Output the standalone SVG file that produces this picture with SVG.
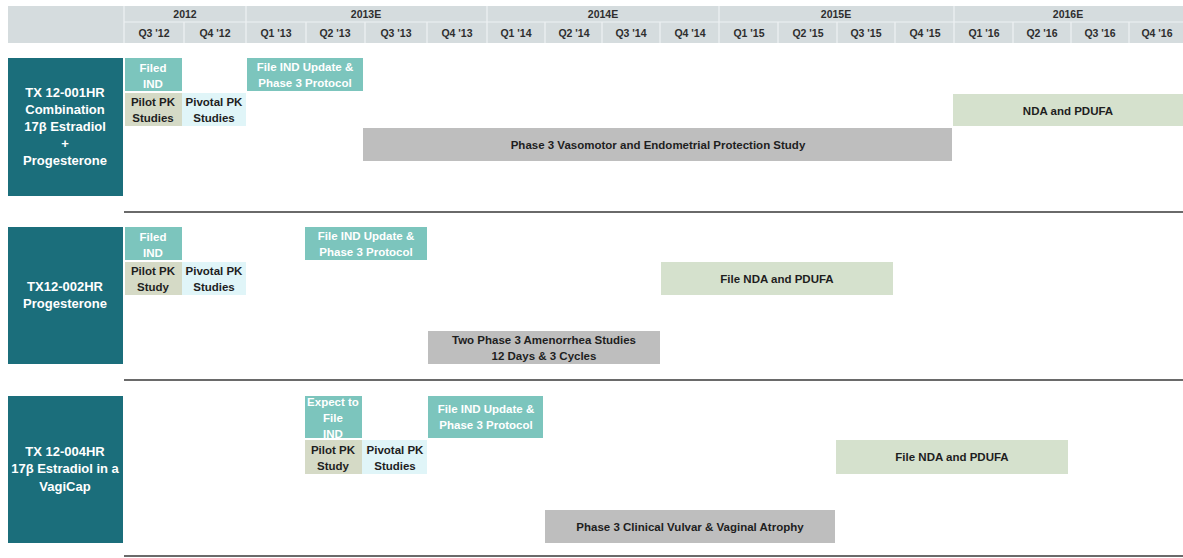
<svg xmlns="http://www.w3.org/2000/svg" width="1183" height="558" viewBox="0 0 1183 558">
<style>
text{font-family:"Liberation Sans",Arial,sans-serif;font-weight:bold;text-anchor:middle}
.hd{font-size:10.5px;fill:#2e2e2e}
.lbl{font-size:13px;fill:#ffffff}
.bt{font-size:11.5px;fill:#1e1e1e}
.wt{font-size:11.5px;fill:#ffffff}
.prog{fill:#1b6e7b}
.ind{fill:#7cc5bd}
.pilot{fill:#d5dac6}
.piv{fill:#e0f5f8}
.gray{fill:#bebebe}
.nda{fill:#d5e1cd}
.sep{stroke:#6a6a6a;stroke-width:2}
.hl{stroke:#eef2f3;stroke-width:1.2}
</style>
<rect width="1183" height="558" fill="#ffffff"/>
<g id="header">
<rect x="8" y="6" width="1175" height="37" fill="#d5dcde"/>
<line class="hl" x1="124" y1="22" x2="1183" y2="22"/>
<g>
<line class="hl" x1="124" y1="6" x2="124" y2="43"/>
<line class="hl" x1="246" y1="6" x2="246" y2="43"/>
<line class="hl" x1="487" y1="6" x2="487" y2="43"/>
<line class="hl" x1="719" y1="6" x2="719" y2="43"/>
<line class="hl" x1="954" y1="6" x2="954" y2="43"/>
<line class="hl" x1="184" y1="22" x2="184" y2="43"/>
<line class="hl" x1="306" y1="22" x2="306" y2="43"/>
<line class="hl" x1="365" y1="22" x2="365" y2="43"/>
<line class="hl" x1="427" y1="22" x2="427" y2="43"/>
<line class="hl" x1="545" y1="22" x2="545" y2="43"/>
<line class="hl" x1="602" y1="22" x2="602" y2="43"/>
<line class="hl" x1="660" y1="22" x2="660" y2="43"/>
<line class="hl" x1="778" y1="22" x2="778" y2="43"/>
<line class="hl" x1="837" y1="22" x2="837" y2="43"/>
<line class="hl" x1="895" y1="22" x2="895" y2="43"/>
<line class="hl" x1="1013" y1="22" x2="1013" y2="43"/>
<line class="hl" x1="1071" y1="22" x2="1071" y2="43"/>
<line class="hl" x1="1129" y1="22" x2="1129" y2="43"/>
</g>
<text class="hd" x="185" y="18">2012</text>
<text class="hd" x="366" y="18">2013E</text>
<text class="hd" x="603" y="18">2014E</text>
<text class="hd" x="836" y="18">2015E</text>
<text class="hd" x="1068" y="18">2016E</text>
<text class="hd" x="154" y="37">Q3 '12</text>
<text class="hd" x="215" y="37">Q4 '12</text>
<text class="hd" x="276" y="37">Q1 '13</text>
<text class="hd" x="335" y="37">Q2 '13</text>
<text class="hd" x="396" y="37">Q3 '13</text>
<text class="hd" x="457" y="37">Q4 '13</text>
<text class="hd" x="516" y="37">Q1 '14</text>
<text class="hd" x="574" y="37">Q2 '14</text>
<text class="hd" x="631" y="37">Q3 '14</text>
<text class="hd" x="690" y="37">Q4 '14</text>
<text class="hd" x="749" y="37">Q1 '15</text>
<text class="hd" x="808" y="37">Q2 '15</text>
<text class="hd" x="866" y="37">Q3 '15</text>
<text class="hd" x="925" y="37">Q4 '15</text>
<text class="hd" x="984" y="37">Q1 '16</text>
<text class="hd" x="1042" y="37">Q2 '16</text>
<text class="hd" x="1100" y="37">Q3 '16</text>
<text class="hd" x="1157" y="37">Q4 '16</text>
</g>
<g id="separators">
<line class="sep" x1="124" y1="212" x2="1183" y2="212"/>
<line class="sep" x1="124" y1="380" x2="1183" y2="380"/>
<line class="sep" x1="124" y1="556" x2="1183" y2="556"/>
</g>
<g id="row1">
<g id="r1-label"><rect class="prog" x="8" y="58" width="115" height="138"/>
<text class="lbl" x="65" y="97">TX 12-001HR</text>
<text class="lbl" x="65" y="114">Combination</text>
<text class="lbl" x="65" y="131">17β Estradiol</text>
<text class="lbl" x="65" y="148">+</text>
<text class="lbl" x="65" y="165">Progesterone</text></g>
<g id="r1-filed"><rect class="ind" x="125" y="58" width="57" height="33"/>
<text class="wt" x="153" y="72">Filed</text><text class="wt" x="153" y="88">IND</text></g>
<g id="r1-pilot"><rect class="pilot" x="125" y="93" width="57" height="33"/>
<text class="bt" x="153" y="106">Pilot PK</text><text class="bt" x="153" y="122">Studies</text></g>
<g id="r1-pivotal"><rect class="piv" x="182" y="93" width="64" height="33"/>
<text class="bt" x="214" y="106">Pivotal PK</text><text class="bt" x="214" y="122">Studies</text></g>
<g id="r1-indupdate"><rect class="ind" x="247" y="58" width="116" height="33"/>
<text class="wt" x="305" y="71">File IND Update &amp;</text><text class="wt" x="305" y="87">Phase 3 Protocol</text></g>
<g id="r1-nda"><rect class="nda" x="953" y="94" width="230" height="32"/>
<text class="bt" x="1068" y="115">NDA and PDUFA</text></g>
<g id="r1-phase3"><rect class="gray" x="363" y="128" width="589" height="33"/>
<text class="bt" x="658" y="149">Phase 3 Vasomotor and Endometrial Protection Study</text></g>
</g>
<g id="row2">
<g id="r2-label"><rect class="prog" x="8" y="227" width="115" height="137"/>
<text class="lbl" x="65" y="291">TX12-002HR</text>
<text class="lbl" x="65" y="308">Progesterone</text></g>
<g id="r2-filed"><rect class="ind" x="125" y="227" width="57" height="33"/>
<text class="wt" x="153" y="241">Filed</text><text class="wt" x="153" y="257">IND</text></g>
<g id="r2-pilot"><rect class="pilot" x="125" y="262" width="57" height="33"/>
<text class="bt" x="153" y="275">Pilot PK</text><text class="bt" x="153" y="291">Study</text></g>
<g id="r2-pivotal"><rect class="piv" x="182" y="262" width="64" height="33"/>
<text class="bt" x="214" y="275">Pivotal PK</text><text class="bt" x="214" y="291">Studies</text></g>
<g id="r2-indupdate"><rect class="ind" x="305" y="227" width="122" height="33"/>
<text class="wt" x="366" y="240">File IND Update &amp;</text><text class="wt" x="366" y="256">Phase 3 Protocol</text></g>
<g id="r2-nda"><rect class="nda" x="661" y="262" width="232" height="33"/>
<text class="bt" x="777" y="283">File NDA and PDUFA</text></g>
<g id="r2-phase3"><rect class="gray" x="428" y="331" width="232" height="33"/>
<text class="bt" x="544" y="344">Two Phase 3 Amenorrhea Studies</text><text class="bt" x="544" y="360">12 Days &amp; 3 Cycles</text></g>
</g>
<g id="row3">
<g id="r3-label"><rect class="prog" x="8" y="396" width="115" height="147"/>
<text class="lbl" x="65" y="456">TX 12-004HR</text>
<text class="lbl" x="65" y="473">17β Estradiol in a</text>
<text class="lbl" x="65" y="491">VagiCap</text></g>
<g id="r3-expect"><rect class="ind" x="305" y="396" width="57" height="42"/>
<text class="wt" x="333" y="406">Expect to</text><text class="wt" x="333" y="422">File</text><text class="wt" x="333" y="438">IND</text></g>
<g id="r3-pilot"><rect class="pilot" x="305" y="440" width="57" height="34"/>
<text class="bt" x="333" y="454">Pilot PK</text><text class="bt" x="333" y="470">Study</text></g>
<g id="r3-pivotal"><rect class="piv" x="362" y="440" width="65" height="34"/>
<text class="bt" x="395" y="454">Pivotal PK</text><text class="bt" x="395" y="470">Studies</text></g>
<g id="r3-indupdate"><rect class="ind" x="428" y="396" width="115" height="42"/>
<text class="wt" x="486" y="413">File IND Update &amp;</text><text class="wt" x="486" y="429">Phase 3 Protocol</text></g>
<g id="r3-nda"><rect class="nda" x="836" y="440" width="232" height="34"/>
<text class="bt" x="952" y="461">File NDA and PDUFA</text></g>
<g id="r3-phase3"><rect class="gray" x="545" y="510" width="290" height="33"/>
<text class="bt" x="690" y="531">Phase 3 Clinical Vulvar &amp; Vaginal Atrophy</text></g>
</g>
</svg>
